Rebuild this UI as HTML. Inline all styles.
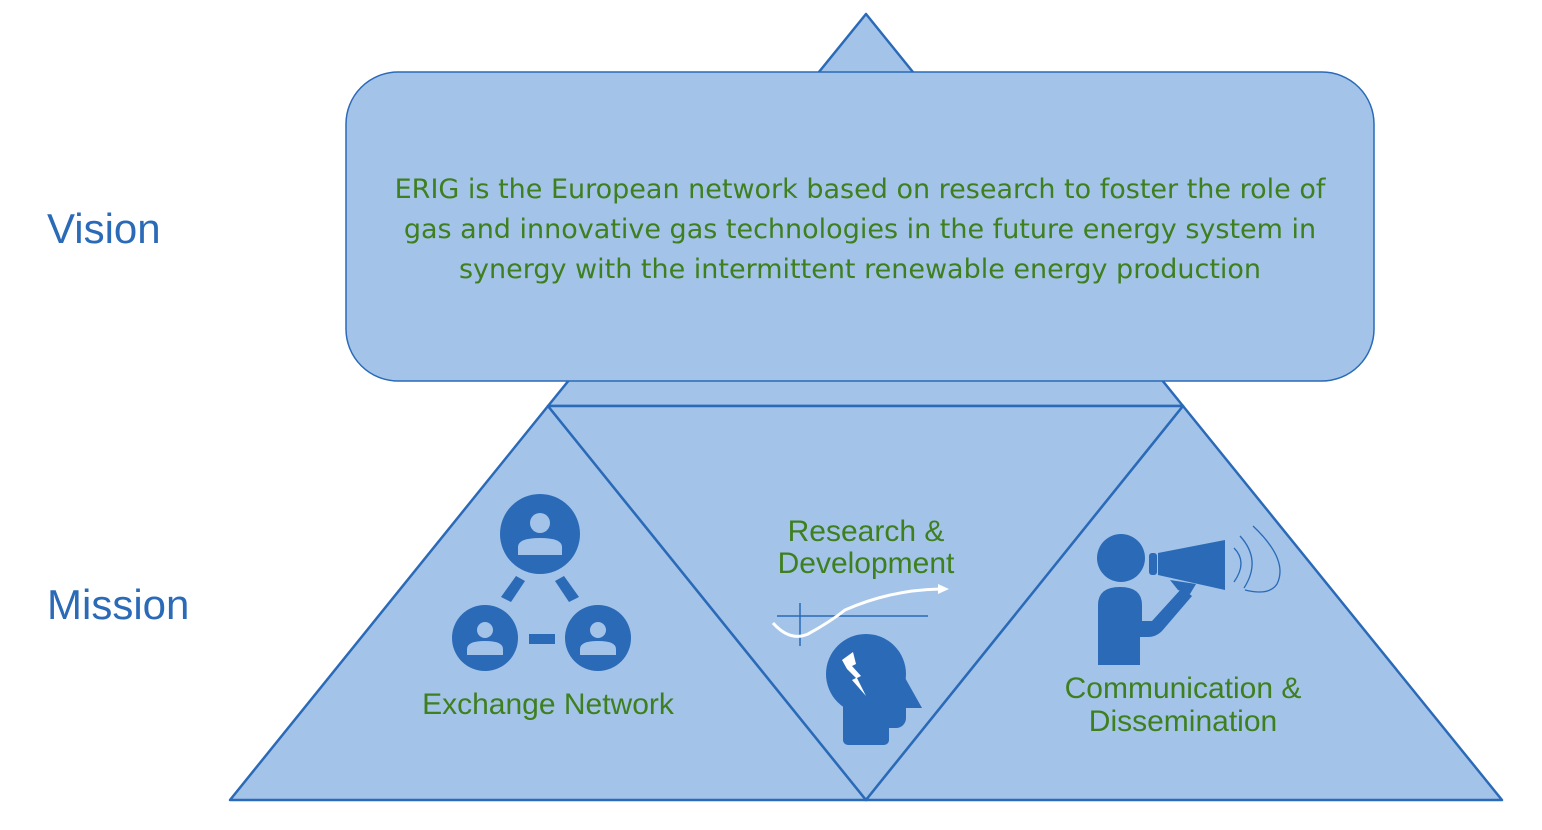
<!DOCTYPE html>
<html><head><meta charset="utf-8"><style>
html,body{margin:0;padding:0;background:#fff;width:1542px;height:830px;overflow:hidden}
svg{display:block}
</style></head><body>
<svg width="1542" height="830" viewBox="0 0 1542 830" xmlns="http://www.w3.org/2000/svg">
<g fill="#a3c3e9" stroke="#2a6ab7" stroke-width="2.5" stroke-linejoin="round">
<polygon points="866,14 1183,406 548,406"/>
<polygon points="548,406 866,800 230,800"/>
<polygon points="548,406 1183,406 866,800"/>
<polygon points="1183,406 1502,800 866,800"/>
<rect x="346" y="72" width="1028" height="309" rx="52" ry="52" stroke-width="1.5"/>
</g>
<g font-family="Liberation Sans, sans-serif" fill="#2a6ab7" font-size="42">
<text x="47" y="243">Vision</text>
<text x="47" y="619">Mission</text>
</g>
<g font-family="DejaVu Sans, sans-serif" fill="#3e7f1e" font-size="27" text-anchor="middle">
<text x="860" y="198">ERIG is the European network based on research to foster the role of</text>
<text x="860" y="238">gas and innovative gas technologies in the future energy system in</text>
<text x="860" y="278">synergy with the intermittent renewable energy production</text>
</g>
<g font-family="Liberation Sans, sans-serif" fill="#3e7f1e" font-size="30" text-anchor="middle">
<text x="548" y="714">Exchange Network</text>
<text x="866" y="541">Research &amp;</text>
<text x="866" y="573">Development</text>
<text x="1183" y="698">Communication &amp;</text>
<text x="1183" y="731">Dissemination</text>
</g>
<!-- network icon -->
<g fill="#2a6ab7">
<circle cx="540" cy="534" r="40"/>
<circle cx="485" cy="638" r="33"/>
<circle cx="598" cy="638" r="33"/>
<rect x="529" y="634" width="26" height="10"/>
<polygon points="516,576 525,581 511,602 501,597"/>
<polygon points="564,576 555,581 569,602 579,597"/>
</g>
<g fill="#a3c3e9">
<circle cx="540" cy="523" r="10"/><path d="M518,555 v-8 q0,-9 22,-9 q22,0 22,9 v8 z"/>
<circle cx="485" cy="630" r="8"/><path d="M467,655 v-6 q0,-8 18,-8 q18,0 18,8 v6 z"/>
<circle cx="598" cy="630" r="8"/><path d="M580,655 v-6 q0,-8 18,-8 q18,0 18,8 v6 z"/>
</g>
<!-- R&D -->
<line x1="777" y1="616" x2="928" y2="616" stroke="#2a6ab7" stroke-width="1.5"/>
<line x1="800" y1="603" x2="800" y2="646" stroke="#2a6ab7" stroke-width="1.5"/>
<path d="M773,623 Q790,642 808,634 Q830,622 845,610 Q890,590 940,589" fill="none" stroke="#fff" stroke-width="3"/>
<polygon points="938,584 949,589 938,594" fill="#fff"/>
<g fill="#2a6ab7">
<circle cx="866" cy="674" r="40"/>
<rect x="843" y="690" width="46" height="55" rx="5"/>
<polygon points="895,660 922,708 895,708"/>
<rect x="870" y="690" width="36" height="38" rx="10"/>
</g>
<path d="M842,660 l11,-8 3,12 -4,2 9,10 -4,2 9,18 -14,-16 4,-2 -9,-9 z" fill="#fff"/>
<!-- megaphone -->
<g fill="#2a6ab7">
<circle cx="1121" cy="558" r="24"/>
<path d="M1098,665 v-60 q0,-18 22,-18 q22,0 22,18 v16 h10 l30,-33 10,8 -30,35 q-6,6 -14,6 h-8 v28 z"/>
<rect x="1149" y="553" width="8" height="22" rx="3"/>
<polygon points="1158,553 1225,540 1225,590 1158,575"/>
<polygon points="1170,580 1196,584 1190,594 1178,590"/>
</g>
<g fill="none" stroke="#2a6ab7" stroke-width="1.3">
<path d="M1234,548 q14,14 0,34"/>
<path d="M1240,536 q22,24 4,52"/>
<path d="M1253,526 q36,34 24,58 q-8,12 -32,6"/>
</g>
</svg>
</body></html>
